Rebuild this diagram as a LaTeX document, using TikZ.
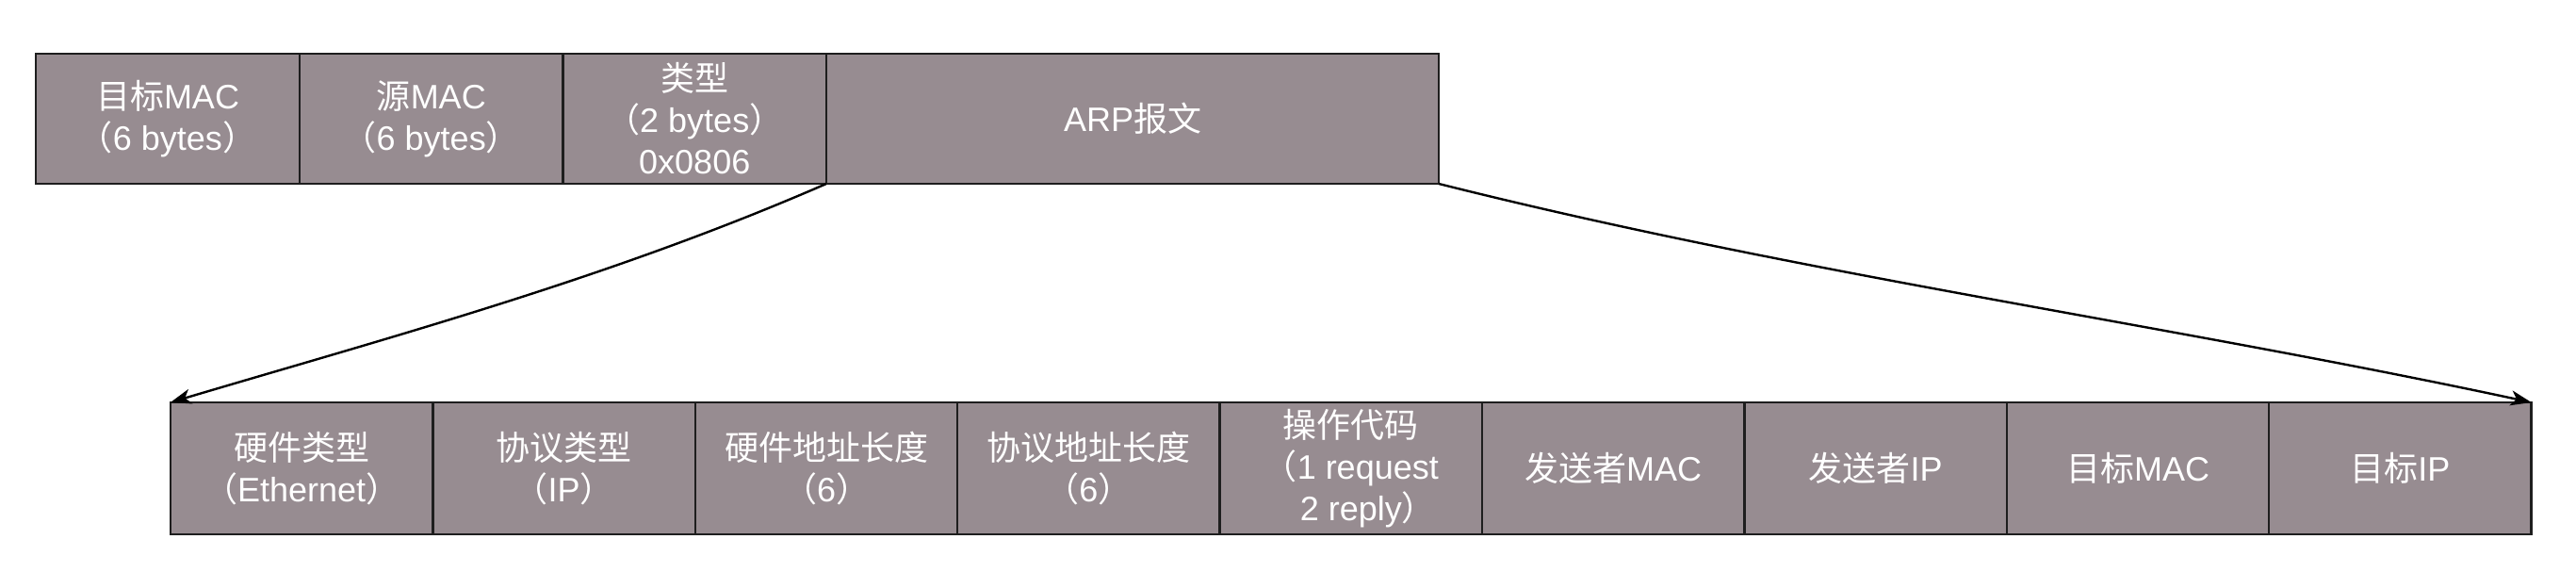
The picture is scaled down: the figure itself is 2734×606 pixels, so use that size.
\documentclass[tikz,border=0pt]{standalone}
\usepackage{fontspec}
\setmainfont{Liberation Sans}
\newfontfamily\cjk{Noto Sans CJK SC}
\usetikzlibrary{arrows.meta}
\definecolor{boxfill}{HTML}{978C91}
\definecolor{boxline}{HTML}{1E1E1E}
\newcommand{\zlp}{{\cjk （}}
\newcommand{\zrp}{{\cjk ）}}
\begin{document}
\begin{tikzpicture}[x=0.5pt,y=-0.5pt,
  field/.style={draw=boxline, line width=1.2pt, fill=boxfill, text=white,
    inner sep=0pt, outer sep=0pt, align=center,
    font=\fontsize{18}{22}\selectfont},
  toprow/.style={field, minimum height=69pt},
  botrow/.style={field, minimum height=70pt, minimum width=139.2pt},
  link/.style={draw=black, line width=1.2pt,
    -{Stealth[length=11pt,width=8pt,inset=3pt]}}]
\useasboundingbox (0,0) rectangle (2734,606);
% top row
\node[toprow, minimum width=140pt, anchor=north west] (t1) at (38,57)
  {{\cjk 目标}MAC\\\zlp 6 bytes\zrp};
\node[toprow, minimum width=139.75pt, anchor=west] (t2) at (t1.east)
  {{\cjk 源}MAC\\\zlp 6 bytes\zrp};
\node[toprow, minimum width=139.75pt, anchor=west] (t3) at (t2.east)
  {{\cjk 类型}\\\zlp 2 bytes\zrp\\0x0806};
\node[toprow, minimum width=325pt, anchor=west] (t4) at (t3.east)
  {ARP{\cjk 报文}};
% bottom row
\node[botrow, anchor=north west] (b1) at (181,427)
  {{\cjk 硬件类型}\\\zlp Ethernet\zrp};
\node[botrow, anchor=west] (b2) at (b1.east) {{\cjk 协议类型}\\\zlp IP\zrp};
\node[botrow, anchor=west] (b3) at (b2.east) {{\cjk 硬件地址长度}\\\zlp 6\zrp};
\node[botrow, anchor=west] (b4) at (b3.east) {{\cjk 协议地址长度}\\\zlp 6\zrp};
\node[botrow, anchor=west] (b5) at (b4.east)
  {{\cjk 操作代码}\\\zlp 1 request\\2 reply\rlap{\zrp}};
\node[botrow, anchor=west] (b6) at (b5.east) {{\cjk 发送者}MAC};
\node[botrow, anchor=west] (b7) at (b6.east) {{\cjk 发送者}IP};
\node[botrow, anchor=west] (b8) at (b7.east) {{\cjk 目标}MAC};
\node[botrow, anchor=west] (b9) at (b8.east) {{\cjk 目标}IP};
% connectors
\draw[link] (t4.south west) .. controls (645,296) and (413,358) .. (b1.north west);
\draw[link] (t4.south east) .. controls (1913,292) and (2300,344) .. (b9.north east);
\end{tikzpicture}
\end{document}
